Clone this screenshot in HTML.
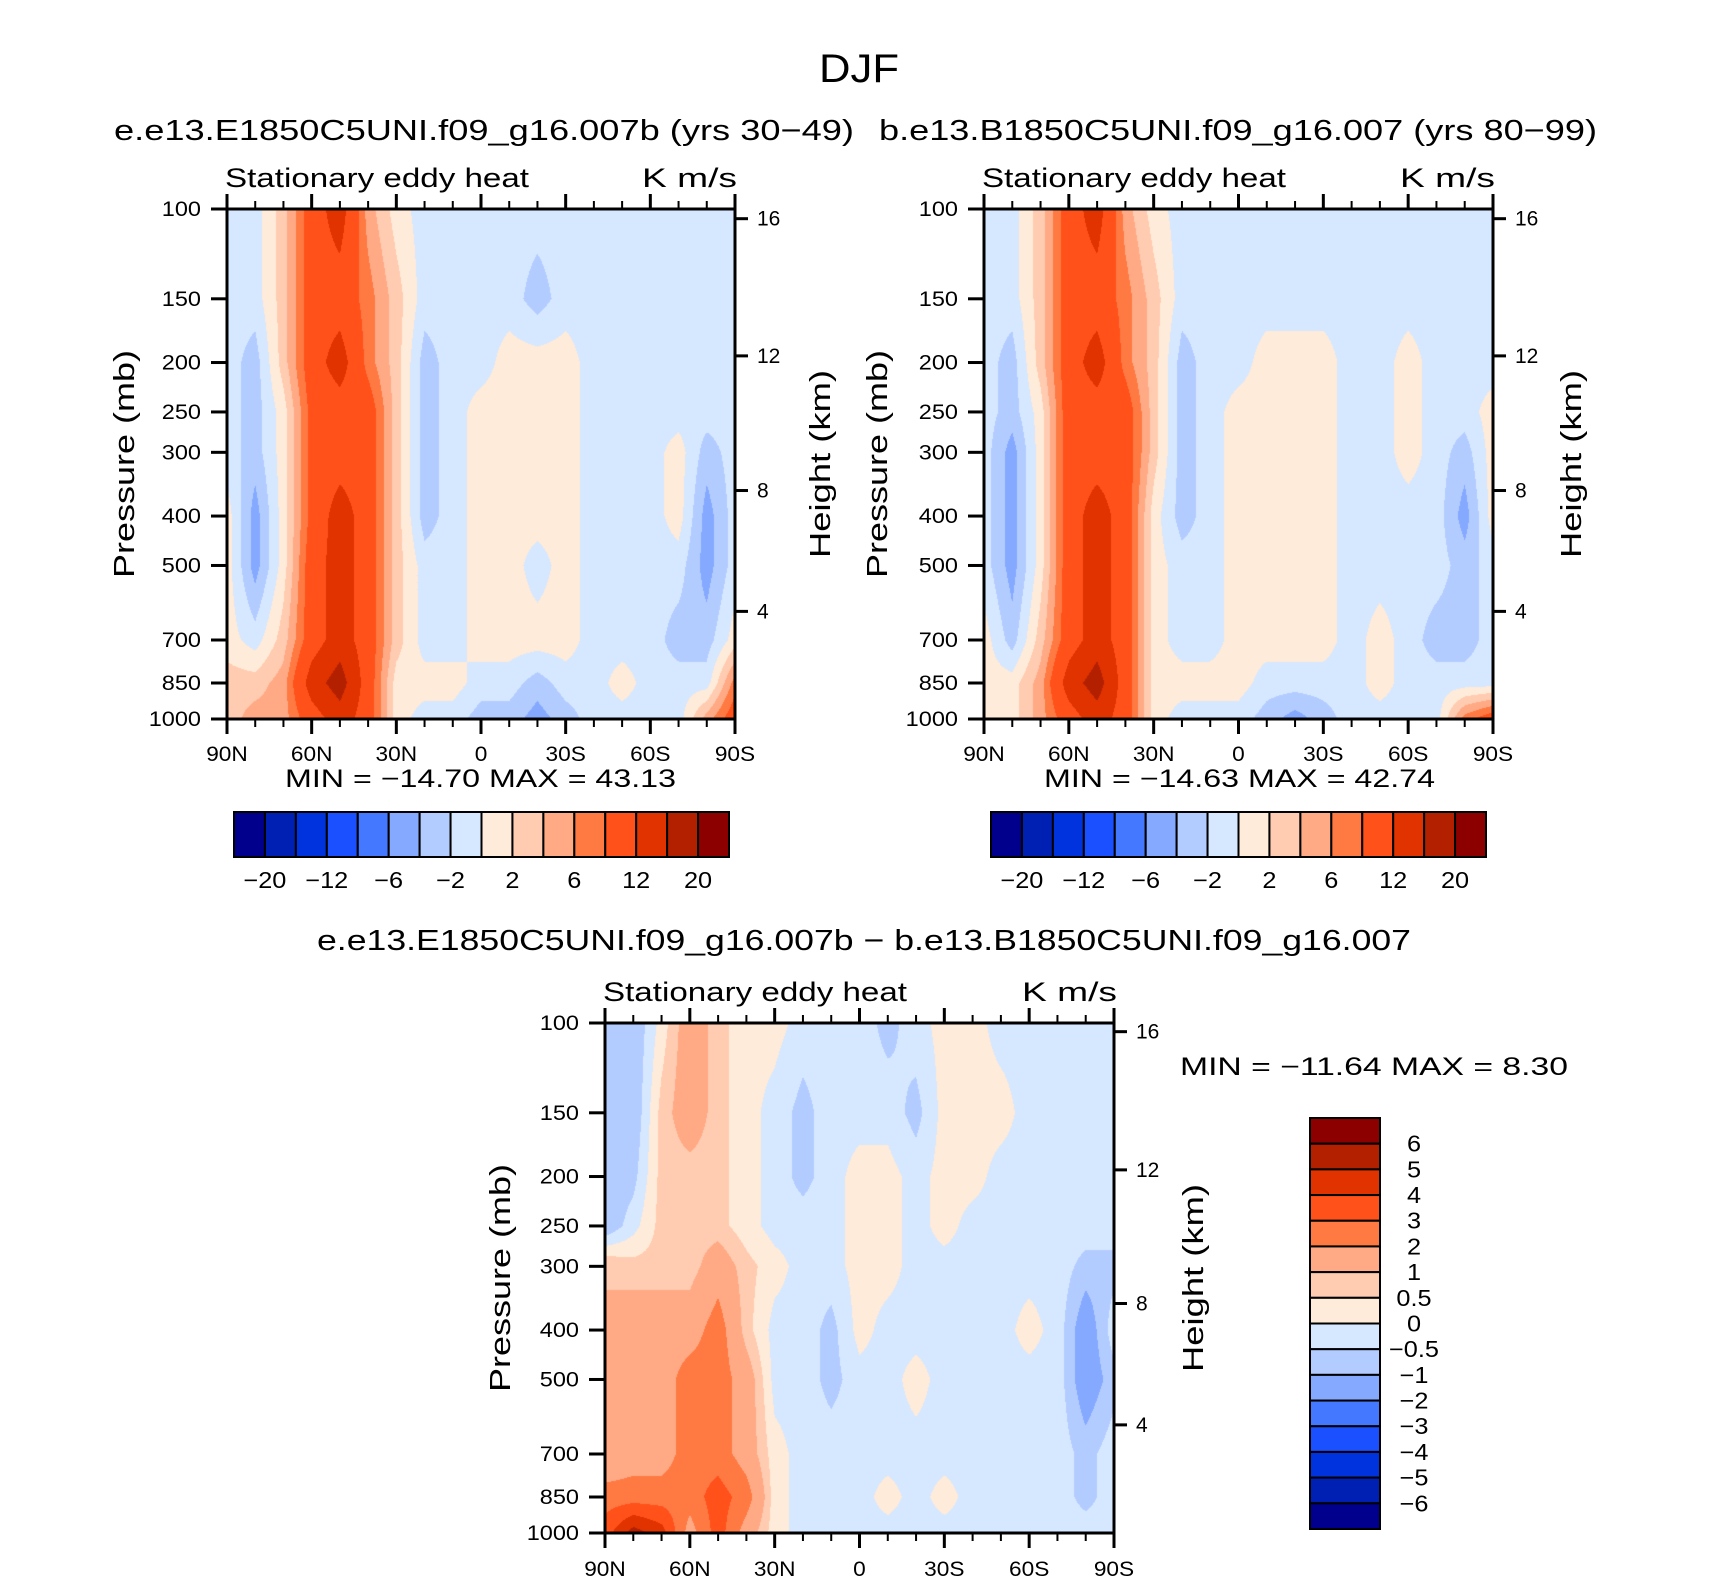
<!DOCTYPE html>
<html><head><meta charset="utf-8"><style>
html,body{margin:0;padding:0;background:#fff;}
#wrap{position:relative;width:1710px;height:1581px;overflow:hidden;font-family:"Liberation Sans",sans-serif;}
canvas{position:absolute;}
svg{position:absolute;left:0;top:0;}
text{font-family:"Liberation Sans",sans-serif;fill:#000;}
</style></head><body>
<div id="wrap">
<canvas id="c1"></canvas>
<canvas id="c2"></canvas>
<canvas id="c3"></canvas>
<svg id="s" width="1710" height="1581"></svg>
</div>
<script>
// ---- data ----
const latLabels = ["90N","60N","30N","0","30S","60S","90S"];
const pressures = [100,150,200,250,300,400,500,700,850,1000];
const heightTicks = [16,12,8,4];
const levelsMain = [-20,-16,-12,-8,-6,-4,-2,0,2,4,6,8,12,16,20];
const mainBarLabels = ["-20","-12","-6","-2","2","6","12","20"];
const levelsDiff = [-6,-5,-4,-3,-2,-1,-0.5,0,0.5,1,2,3,4,5,6];
const diffBarLabels = ["6","5","4","3","2","1","0.5","0","-0.5","-1","-2","-3","-4","-5","-6"];
const palette = ["#00008c","#0020b4","#0033dd","#1a50ff","#4479ff","#85a9ff","#b3ccff","#d6e8ff","#ffebd9","#ffcbb1","#ffaa84","#ff7943","#ff5119","#e03300","#b32000","#8c0000"];
// columns 90N..90S every 10 deg; each column lists values at pressures 100..1000
const panel1Cols = [
 [-1,-1,-1,-1,-1,1,1,1,3,3],
 [-1,-1,-3,-3,-3,-5,-5,-1,3,5],
 [3,3,3,1,1,1,1,3,5,5],
 [10,10,10,9,9,9,10,10,14,10],
 [14,10,14,10,10,14,14,14,18,14],
 [5,7,7,10,10,10,10,10,10,10],
 [1,3,3,3,3,3,3,3,1,1],
 [-1,-1,-3,-3,-3,-3,-1,-1,1,-1],
 [-1,-1,-1,-1,-1,-1,-1,-1,1,-1],
 [-1,-1,-1,1,1,1,1,1,-1,-3],
 [-1,-1,1,1,1,1,1,1,-1,-3],
 [-1,-3,1,1,1,1,-1,1,-3,-5],
 [-1,-1,1,1,1,1,1,1,-1,-3],
 [-1,-1,-1,-1,-1,-1,-1,-1,-1,-1],
 [-1,-1,-1,-1,-1,-1,-1,-1,1,-1],
 [-1,-1,-1,-1,-1,-1,-1,-1,-1,-1],
 [-1,-1,-1,-1,1,1,-1,-3,-1,-1],
 [-1,-1,-1,-1,-3,-5,-5,-3,-1,5],
 [-1,-1,-1,-1,-1,-1,-1,1,7,10]
];
const panel2Cols = [
 [-1,-1,-1,-1,-1,-1,-1,1,1,1],
 [-1,-1,-3,-3,-5,-5,-5,-3,1,1],
 [3,3,3,1,1,1,1,3,5,5],
 [10,10,10,10,10,10,10,10,14,10],
 [14,10,14,10,10,14,14,14,18,14],
 [5,7,7,10,10,10,10,10,10,10],
 [1,3,3,3,3,1,1,1,1,1],
 [-1,-1,-3,-3,-3,-3,-1,-1,1,-1],
 [-1,-1,-1,-1,-1,-1,-1,-1,1,-1],
 [-1,-1,-1,1,1,1,1,1,1,-1],
 [-1,-1,1,1,1,1,1,1,-1,-3],
 [-1,-1,1,1,1,1,1,1,-1,-5],
 [-1,-1,1,1,1,1,1,1,-1,-3],
 [-1,-1,-1,-1,-1,-1,-1,-1,-1,-1],
 [-1,-1,-1,-1,-1,-1,-1,1,1,-1],
 [-1,-1,1,1,1,-1,-1,-1,-1,-1],
 [-1,-1,-1,-1,-1,-1,-1,-3,-1,-1],
 [-1,-1,-1,-1,-3,-5,-3,-3,-1,7],
 [-1,-1,-1,1,1,1,-1,-1,-1,10]
];
const panel3Cols = [
 [-1,-1,-1,-1,1,1,1,1,2.5,3.5],
 [-1,-1,-0.7,-0.2,0.7,1.5,1.5,1.5,2.5,5.5],
 [0.2,0.7,0.7,0.7,0.7,1.5,1.5,1.5,2.5,4.5],
 [1.5,1.5,0.7,0.7,0.7,1.5,2.5,2.5,2.5,1.5],
 [0.7,0.7,0.7,0.7,1.5,2.5,2.5,2.5,3.5,3.5],
 [0.2,0.2,0.2,0.2,0.7,0.7,1.5,1.5,2.5,1.5],
 [0.2,-0.2,-0.2,-0.2,0.2,-0.2,-0.2,0.2,0.2,0.2],
 [-0.2,-0.7,-0.7,-0.2,-0.2,-0.2,-0.2,-0.2,-0.2,-0.2],
 [-0.2,-0.2,-0.2,-0.2,-0.2,-0.7,-0.7,-0.2,-0.2,-0.2],
 [-0.2,-0.2,0.2,0.2,0.2,0.2,-0.2,-0.2,-0.2,-0.2],
 [-0.7,-0.2,0.2,0.2,0.2,-0.2,-0.2,-0.2,0.2,-0.2],
 [-0.2,-0.7,-0.2,-0.2,-0.2,-0.2,0.2,-0.2,-0.2,-0.2],
 [0.2,0.2,0.2,0.2,-0.2,-0.2,-0.2,-0.2,0.2,-0.2],
 [0.2,0.2,0.2,-0.2,-0.2,-0.2,-0.2,-0.2,-0.2,-0.2],
 [-0.2,0.2,-0.2,-0.2,-0.2,-0.2,-0.2,-0.2,-0.2,-0.2],
 [-0.2,-0.2,-0.2,-0.2,-0.2,0.2,-0.2,-0.2,-0.2,-0.2],
 [-0.2,-0.2,-0.2,-0.2,-0.2,-0.2,-0.2,-0.2,-0.2,-0.2],
 [-0.2,-0.2,-0.2,-0.2,-0.7,-1.5,-1.5,-0.7,-0.7,-0.2],
 [-0.2,-0.2,-0.2,-0.2,-0.7,-0.2,-0.7,-0.2,-0.2,-0.2]
];
const minMax1 = ["-14.70","43.13"];
const minMax2 = ["-14.63","42.74"];
const minMax3 = ["-11.64","8.30"];

// ---- layout ----
const NS="http://www.w3.org/2000/svg";
const svg=document.getElementById('s');
function el(tag,attrs,parent){const e=document.createElementNS(NS,tag);for(const k in attrs)e.setAttribute(k,attrs[k]);(parent||svg).appendChild(e);return e;}
function txt(str,x,y,size,anchor,parent,extra){const t=el('text',Object.assign({x:x,y:y,'font-size':size,'text-anchor':anchor||'start'},extra||{}),parent);t.textContent=str.replace(/-/g,'\u2212');return t;}
function fit(len){return {textLength:len,lengthAdjust:'spacingAndGlyphs'};}

function drawField(id,cols,levels,L,T,W,H){
  const c=document.getElementById(id);c.width=W;c.height=H;c.style.left=L+'px';c.style.top=T+'px';
  const ctx=c.getContext('2d');const img=ctx.createImageData(W,H);
  const lp=pressures.map(p=>Math.log10(p));
  const rgb=palette.map(h=>[parseInt(h.substr(1,2),16),parseInt(h.substr(3,2),16),parseInt(h.substr(5,2),16)]);
  for(let y=0;y<H;y++){
    const l=2+(y+0.5)/H; let r=0; while(r<lp.length-2&&l>lp[r+1])r++;
    const fy=Math.min(1,Math.max(0,(l-lp[r])/(lp[r+1]-lp[r])));
    for(let x=0;x<W;x++){
      const fxAll=(x+0.5)/W*(cols.length-1); let ci=Math.min(cols.length-2,Math.floor(fxAll)); const fx=fxAll-ci;
      const a=cols[ci][r]*(1-fy)+cols[ci][r+1]*fy, b=cols[ci+1][r]*(1-fy)+cols[ci+1][r+1]*fy;
      const v=a*(1-fx)+b*fx;
      let k=0;while(k<levels.length&&v>=levels[k])k++;
      const o=(y*W+x)*4;img.data[o]=rgb[k][0];img.data[o+1]=rgb[k][1];img.data[o+2]=rgb[k][2];img.data[o+3]=255;
    }
  }
  ctx.putImageData(img,0,0);
}

function drawAxes(name,L,T,W,H,hFr,labelY,pressLabelX,heightLabelX,titleBase,kmsRight){
  const g=el('g',{});
  
  
  el('rect',{x:L,y:T,width:W,height:H,fill:'none',stroke:'#000','stroke-width':3},g);
  for(let i=0;i<=18;i++){
    const x=L+i*W/18, major=i%3===0, len=major?15:8;
    el('line',{x1:x,y1:T+H,x2:x,y2:T+H+len,stroke:'#000','stroke-width':major?3:2},g);
    el('line',{x1:x,y1:T,x2:x,y2:T-len,stroke:'#000','stroke-width':major?3:2},g);
  }
  latLabels.forEach((s,i)=>{const t=txt(s,L+i*W/6,labelY,21,'middle',g,{transform:'translate('+(L+i*W/6)+',0) scale(1.08,1) translate('+(-(L+i*W/6))+',0)'});});
  pressures.forEach(p=>{
    const y=T+(Math.log10(p)-2)*H;
    el('line',{x1:L-16,y1:y,x2:L,y2:y,stroke:'#000','stroke-width':3},g);
    const t=txt(String(p),L-26,y+7,21,'end',g,{transform:'translate('+(L-26)+',0) scale(1.12,1) translate('+(-(L-26))+',0)'});
  });
  heightTicks.forEach((h,i)=>{
    const y=T+hFr[i]*H;
    el('line',{x1:L+W,y1:y,x2:L+W+13,y2:y,stroke:'#000','stroke-width':3},g);
    const t=txt(String(h),L+W+22,y+7,21,'start',g);
  });
  const pl=txt('Pressure  (mb)',0,0,29,'middle',g,Object.assign({transform:'translate('+(pressLabelX+10)+','+(T+H/2)+') rotate(-90)'},fit(228)));
  
  const hl=txt('Height  (km)',0,0,29,'middle',g,Object.assign({transform:'translate('+(heightLabelX+10)+','+(T+H/2)+') rotate(-90)'},fit(188)));
  
  const st=txt('Stationary  eddy  heat',L-2,titleBase,27,'start',g,fit(304));
  
  const km=txt('K  m/s',kmsRight,titleBase,27,'end',g,fit(95));
  
}

function hBar(name,L,T,W,H,labels,labY){
  const g=el('g',{});
  
  
  palette.forEach((c,i)=>{el('rect',{x:L+i*W/16,y:T,width:W/16,height:H,fill:c,stroke:'#000','stroke-width':2},g);});
  labels.forEach((s,j)=>{const x=L+(2*j+1)*W/16;txt(s,x,labY,23,'middle',g,{transform:'translate('+x+',0) scale(1.1,1) translate('+(-x)+',0)'});});
}
function vBar(name,L,T,W,H,labels,labX){
  const g=el('g',{});
  
  
  palette.slice().reverse().forEach((c,i)=>{el('rect',{x:L,y:T+i*H/16,width:W,height:H/16,fill:c,stroke:'#000','stroke-width':2},g);});
  labels.forEach((s,j)=>{txt(s,labX,T+(j+1)*H/16+8,23,'middle',g,{transform:'translate('+labX+',0) scale(1.1,1) translate('+(-labX)+',0)'});});
}

const hFr=[0.019,0.288,0.552,0.789];
drawField('c1',panel1Cols,levelsMain,227,209,508,510);
drawAxes('panel-e',227,209,508,510,hFr,761,124,820,187,737);
drawField('c2',panel2Cols,levelsMain,984,209,509,510);
drawAxes('panel-b',984,209,509,510,hFr,761,877,1571,187,1495);
drawField('c3',panel3Cols,levelsDiff,605,1023,509,510);
drawAxes('panel-diff',605,1023,509,510,[0.017,0.288,0.55,0.788],1576,500,1193,1001,1117);

hBar('colorbar-e',234,812,495,45,mainBarLabels,888);
hBar('colorbar-b',991,812,495,45,mainBarLabels,888);
vBar('colorbar-diff',1310,1118,70,411,diffBarLabels,1414);

let t;
t=txt('DJF',859,82,40,'middle',null,fit(80));
t=txt('e.e13.E1850C5UNI.f09_g16.007b  (yrs  30-49)',484,140,29,'middle',null,fit(740));
t=txt('b.e13.B1850C5UNI.f09_g16.007  (yrs  80-99)',1238,140,29,'middle',null,fit(718));
t=txt('e.e13.E1850C5UNI.f09_g16.007b  -  b.e13.B1850C5UNI.f09_g16.007',864,950,29,'middle',null,fit(1094));
t=txt('MIN  =  '+minMax1[0]+'     MAX  =    '+minMax1[1],285,787,25,'start',null,fit(391));
t=txt('MIN  =  '+minMax2[0]+'     MAX  =    '+minMax2[1],1044,787,25,'start',null,fit(391));
t=txt('MIN  =  '+minMax3[0]+'     MAX  =      '+minMax3[1],1180,1075,25,'start',null,fit(388));
</script>
</body></html>
